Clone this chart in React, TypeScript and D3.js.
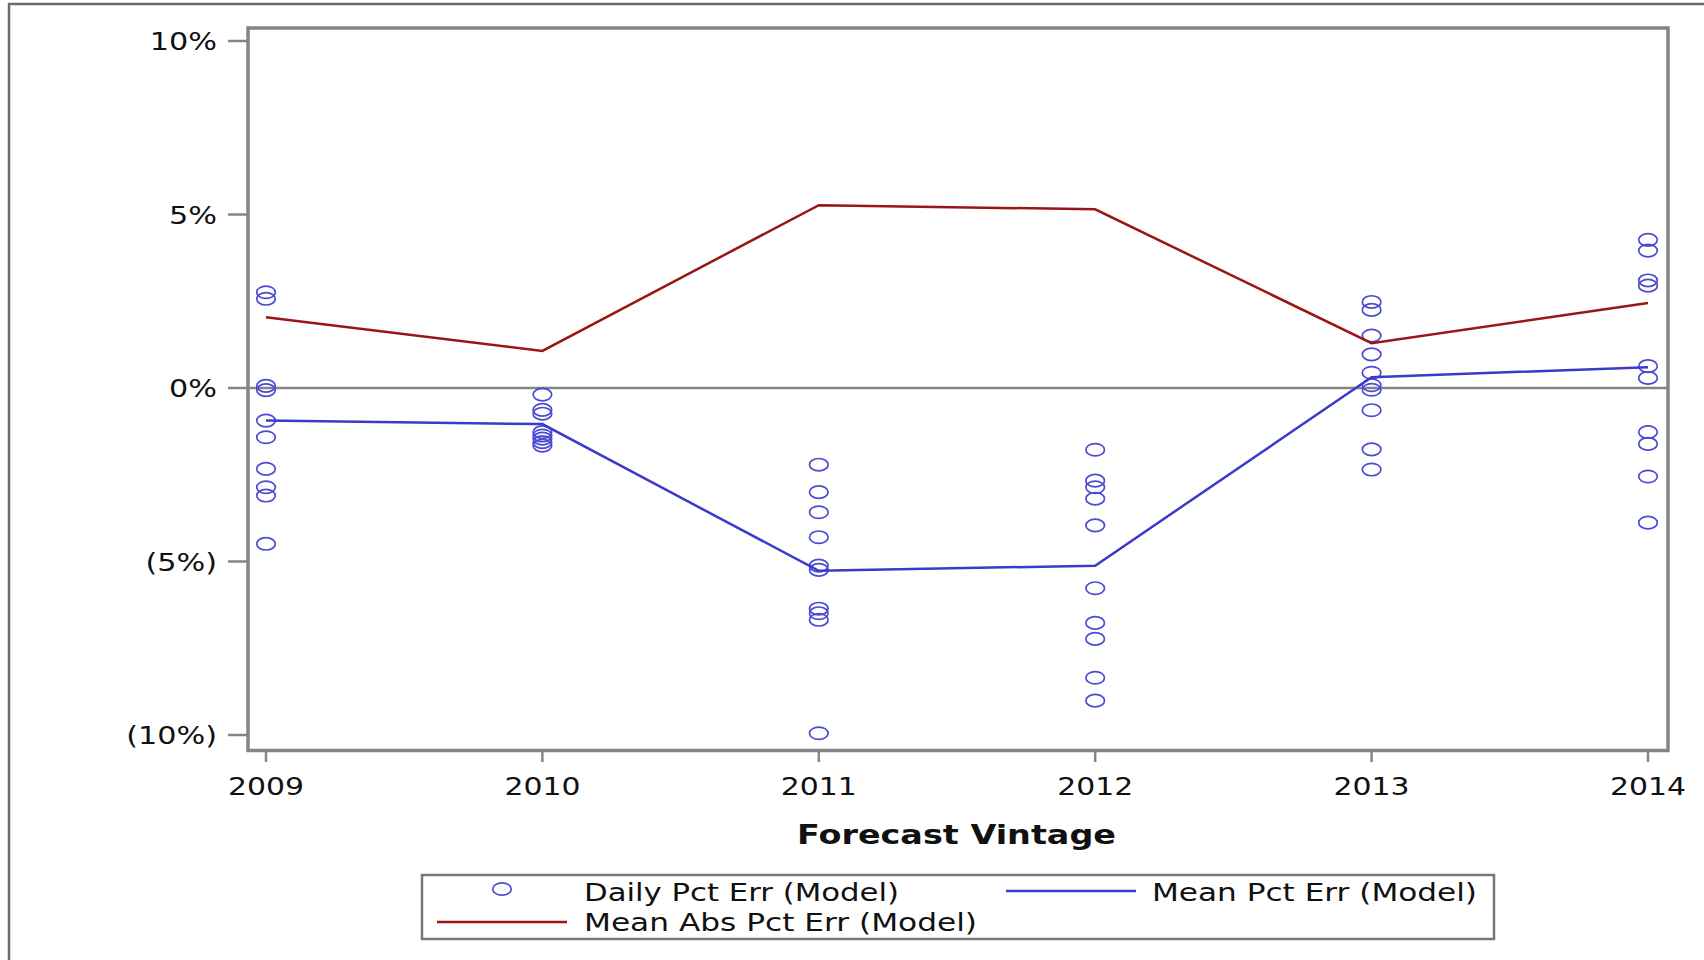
import React from "react";
import * as d3 from "d3";

const years = [2009, 2010, 2011, 2012, 2013, 2014];
const yTicks = [10, 5, 0, -5, -10];

// Daily Pct Err (Model), % values per vintage
const daily2009 = [2.76, 2.57, 0.06, -0.06, -0.94, -1.42, -2.33, -2.86, -3.1, -4.49];
const daily2010 = [-0.19, -0.63, -0.74, -1.27, -1.37, -1.46, -1.56, -1.66];
const daily2011 = [-2.21, -3.0, -3.58, -4.3, -5.12, -5.24, -6.36, -6.49, -6.68, -9.95];
const daily2012 = [-1.78, -2.67, -2.86, -3.19, -3.96, -5.77, -6.77, -7.23, -8.35, -9.01];
const daily2013 = [2.48, 2.25, 1.51, 0.97, 0.44, 0.08, -0.05, -0.64, -1.77, -2.35];
const daily2014 = [4.27, 3.96, 3.1, 2.95, 0.63, 0.29, -1.27, -1.61, -2.55, -3.88];
const dailyByYear = [daily2009, daily2010, daily2011, daily2012, daily2013, daily2014];

// Mean Pct Err (Model)
const meanPctErr = [-0.94, -1.04, -5.27, -5.12, 0.31, 0.6];
// Mean Abs Pct Err (Model)
const meanAbsPctErr = [2.04, 1.07, 5.27, 5.15, 1.29, 2.45];

const legendLabels = ["Daily Pct Err (Model)", "Mean Pct Err (Model)", "Mean Abs Pct Err (Model)"];
const xTitle = "Forecast Vintage";

const BLUE = "#3a3acb";
const MARKER = "#4b4bd2";
const RED = "#9a1515";
const AXIS = "#858585";
const FONT = "DejaVu Sans, sans-serif";
const SX = 1.22;

function fmtPct(v: number) {
  return v < 0 ? `(${Math.abs(v)}%)` : `${v}%`;
}

function SText(props: { x: number; y: number; anchor?: string; size: number; weight?: string; children: string; sx?: number }) {
  const { x, y, anchor = "start", size, weight = "normal", children, sx = SX } = props;
  return (
    <text
      transform={`translate(${x},${y}) scale(${sx},1)`}
      textAnchor={anchor}
      fontFamily={FONT}
      fontSize={size}
      fontWeight={weight}
      fill="#111"
    >
      {children}
    </text>
  );
}

export default function App() {
  const plotL = 248, plotR = 1668, plotT = 28, plotB = 750.5;
  const x = d3.scaleLinear().domain([2009, 2014]).range([266, 1648]);
  const y = d3.scaleLinear().domain([-10, 10]).range([735, 41]);

  const line = d3
    .line<number>()
    .x((_, i) => x(years[i]))
    .y((d) => y(d));

  return (
    <svg width={1704} height={960} style={{ position: "absolute", left: 0, top: 0, background: "#fff" }}>
      <rect x={0} y={0} width={1704} height={960} fill="#fff" />
      {/* outer frame */}
      <rect x={9} y={4} width={1800} height={1100} fill="none" stroke="#6c6c6c" strokeWidth={2.5} />

      {/* zero reference line */}
      <line x1={plotL} x2={plotR} y1={y(0)} y2={y(0)} stroke={AXIS} strokeWidth={2.5} />

      {/* y ticks */}
      {yTicks.map((t) => (
        <g key={t}>
          <line x1={228} x2={plotL} y1={y(t)} y2={y(t)} stroke={AXIS} strokeWidth={2.5} />
          <SText x={217} y={y(t) + 9} anchor="end" size={25} sx={1.21}>
            {fmtPct(t)}
          </SText>
        </g>
      ))}

      {/* x ticks */}
      {years.map((yr) => (
        <g key={yr}>
          <line x1={x(yr)} x2={x(yr)} y1={plotB} y2={762} stroke={AXIS} strokeWidth={2.5} />
          <SText x={x(yr)} y={795} anchor="middle" size={24.5}>
            {String(yr)}
          </SText>
        </g>
      ))}

      {/* markers */}
      {dailyByYear.map((arr, i) =>
        arr.map((v, j) => (
          <ellipse
            key={`${i}-${j}`}
            cx={x(years[i])}
            cy={y(v)}
            rx={9.3}
            ry={6.2}
            fill="none"
            stroke={MARKER}
            strokeWidth={1.7}
          />
        ))
      )}

      {/* lines */}
      <path d={line(meanAbsPctErr) || ""} fill="none" stroke={RED} strokeWidth={2.5} />
      <path d={line(meanPctErr) || ""} fill="none" stroke={BLUE} strokeWidth={2.5} />

      {/* plot frame */}
      <rect x={plotL} y={plotT} width={plotR - plotL} height={plotB - plotT} fill="none" stroke={AXIS} strokeWidth={3.5} />

      {/* x title */}
      <text x={797} y={844} fontFamily={FONT} fontSize={27} fontWeight="bold" fill="#111" textLength={319} lengthAdjust="spacingAndGlyphs">
        {xTitle}
      </text>

      {/* legend */}
      <rect x={422} y={875} width={1072} height={64} fill="none" stroke="#777" strokeWidth={2.5} />
      <ellipse cx={502} cy={889} rx={9.3} ry={6.2} fill="none" stroke={MARKER} strokeWidth={1.7} />
      <text x={584} y={901} fontFamily={FONT} fontSize={24.5} fill="#111" textLength={315} lengthAdjust="spacingAndGlyphs">
        {legendLabels[0]}
      </text>
      <line x1={1006} x2={1136} y1={891} y2={891} stroke={BLUE} strokeWidth={2.5} />
      <text x={1152} y={901} fontFamily={FONT} fontSize={24.5} fill="#111" textLength={325} lengthAdjust="spacingAndGlyphs">
        {legendLabels[1]}
      </text>
      <line x1={437} x2={567} y1={922} y2={922} stroke={RED} strokeWidth={2.5} />
      <text x={584} y={931} fontFamily={FONT} fontSize={24.5} fill="#111" textLength={393} lengthAdjust="spacingAndGlyphs">
        {legendLabels[2]}
      </text>
    </svg>
  );
}
